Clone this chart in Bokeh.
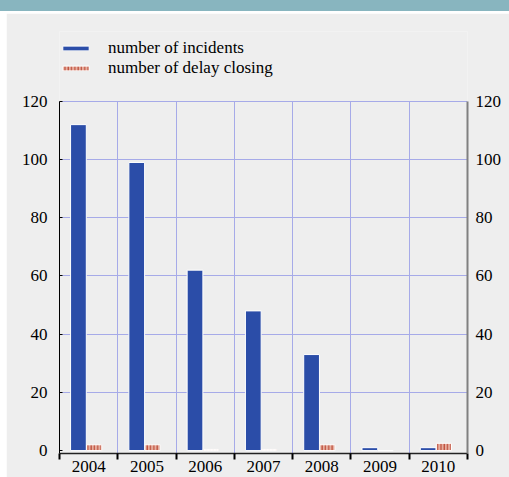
from bokeh.plotting import figure
from bokeh.models import (Range1d, LinearAxis, FixedTicker, Legend, LegendItem,
                          ColumnDataSource, BoxAnnotation)
from bokeh.embed import file_html
from bokeh.resources import INLINE

years = ["2004", "2005", "2006", "2007", "2008", "2009", "2010"]
incidents = [112, 99, 62, 48, 33, 1, 1]
delay_closing = [2, 2, 0.4, 0.4, 2, 0, 2.5]
y_ticks = [0, 20, 40, 60, 80, 100, 120]
y_top = 120

FONT = "serif"
BG = "#EEEEEE"

idx = list(range(len(years)))
src = ColumnDataSource(dict(
    x_inc=[i + 0.325 for i in idx],
    x_del=[i + 0.595 for i in idx],
    incidents=incidents,
    delay=delay_closing,
))

p = figure(width=509, height=477, output_backend="svg", toolbar_location=None,
           x_range=Range1d(0, len(years)), y_range=Range1d(-1, 144),
           min_border_left=53, min_border_right=48, min_border_top=18,
           min_border_bottom=37)
p.background_fill_color = BG
p.border_fill_color = BG
p.outline_line_color = None
p.styles = {"padding-top": "13px", "padding-left": "6px",
            "background": "linear-gradient(#88B5BF 0px, #88B5BF 11px, #FFFFFF 11px)"}

r1 = p.vbar(x="x_inc", top="incidents", bottom=0, width=0.27, source=src,
            fill_color="#2B4DA8", line_color="white", line_width=1)
r2 = p.vbar(x="x_del", top="delay", bottom=0, width=0.26, source=src,
            fill_color="#E6AE9F", line_color="white", line_width=1,
            hatch_pattern="vertical_line", hatch_color="#B8402E",
            hatch_scale=3.3, hatch_weight=1.2, hatch_alpha=0.9)

# x axis
xa = p.xaxis[0]
xa.ticker = FixedTicker(ticks=[i + 0.5 for i in idx],
                        minor_ticks=list(range(len(years) + 1)))
xa.major_label_overrides = {i + 0.5: y for i, y in zip(idx, years)}
xa.major_tick_in = 0
xa.major_tick_out = 0
xa.minor_tick_in = 0
xa.minor_tick_out = 6
xa.minor_tick_line_color = "black"
xa.minor_tick_line_width = 2
xa.axis_line_color = "#222222"
xa.axis_line_width = 1.5
xa.major_label_standoff = 1
xa.major_label_text_font = FONT
xa.major_label_text_font_size = "17px"
xa.major_label_text_color = "black"

# left y axis
ya = p.yaxis[0]
ya.ticker = FixedTicker(ticks=y_ticks)
ya.bounds = (-1, y_top)
ya.major_tick_in = 3
ya.major_tick_out = 0
ya.minor_tick_line_color = None
ya.axis_line_color = "black"
ya.major_label_standoff = 12
ya.major_label_text_font = FONT
ya.major_label_text_font_size = "17px"
ya.major_label_text_color = "black"

# right y axis
yr = LinearAxis(ticker=FixedTicker(ticks=y_ticks), bounds=(-1, y_top))
yr.major_tick_in = 0
yr.major_tick_out = 0
yr.minor_tick_line_color = None
yr.axis_line_color = "#808080"
yr.axis_line_width = 2
yr.major_label_standoff = 8
yr.major_label_text_font = FONT
yr.major_label_text_font_size = "17px"
yr.major_label_text_color = "black"
p.add_layout(yr, "right")

# grids
p.xgrid.ticker = FixedTicker(ticks=list(range(1, len(years))))
p.ygrid.ticker = FixedTicker(ticks=y_ticks[1:])
p.xgrid.grid_line_color = "#A6AAE8"
p.ygrid.grid_line_color = "#A6AAE8"

# hide the part of the vertical grid above the top tick
cover = BoxAnnotation(bottom=y_top, fill_color=BG, fill_alpha=1.0,
                      line_alpha=0, level="underlay")
if hasattr(p.xgrid, "cross_bounds"):
    p.xgrid.cross_bounds = (-1, y_top)
else:
    cover.level = "annotation"
    p.add_layout(cover)

legend = Legend(items=[LegendItem(label="number of incidents", renderers=[r1]),
                       LegendItem(label="number of delay closing", renderers=[r2])],
                location=(0, 375), padding=0, margin=0, spacing=0,
                glyph_width=33, glyph_height=6, label_standoff=16,
                label_height=20, border_line_color=None,
                background_fill_alpha=0,
                label_text_font=FONT, label_text_font_size="17px",
                label_text_color="black")
p.add_layout(legend, "center")

open("out.html", "w").write(file_html(p, INLINE))
